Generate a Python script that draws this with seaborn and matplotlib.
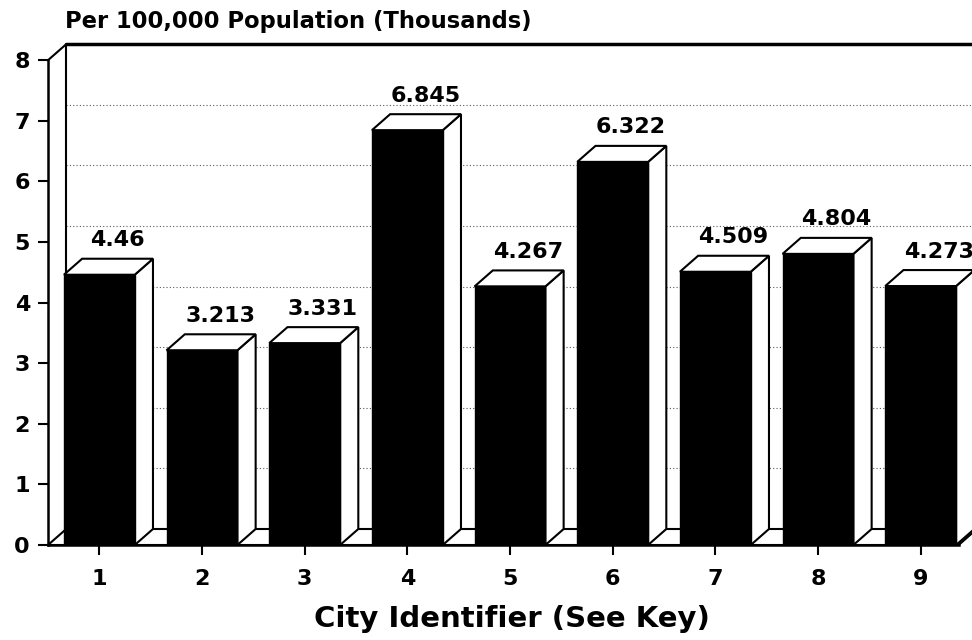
import matplotlib
matplotlib.use("Agg")
import matplotlib.pyplot as plt
from matplotlib.patches import Polygon
import seaborn as sns

# data
cities = ["1", "2", "3", "4", "5", "6", "7", "8", "9"]
rates = [4.46, 3.213, 3.331, 6.845, 4.267, 6.322, 4.509, 4.804, 4.273]
y_ticks = [0, 1, 2, 3, 4, 5, 6, 7, 8]

sns.set_style("white")
plt.rcParams["font.family"] = ["DejaVu Sans"]
plt.rcParams["text.color"] = "black"
plt.rcParams["xtick.color"] = "black"
plt.rcParams["ytick.color"] = "black"
plt.rcParams["axes.edgecolor"] = "black"

W, H = 972, 640
px_x = 101.4      # pixels per category
px_y = 60.6       # pixels per unit
depth_px = (18, 16)
ddx = depth_px[0] / px_x
ddy = depth_px[1] / px_y

fig = plt.figure(figsize=(W / 100, H / 100), dpi=100)
ax_h = (8 + ddy) * px_y
ax = fig.add_axes([48 / W, 95 / H, 924 / W, ax_h / H])
x_lo = -0.5
x_hi = x_lo + 924 / px_x
ax.set_xlim(x_lo, x_hi)
ax.set_ylim(0, 8 + ddy)

# front faces
sns.barplot(x=cities, y=rates, color="black", saturation=1, width=0.69,
            edgecolor="black", linewidth=1, ax=ax, zorder=3)

# back wall: dotted grid + frame
wall_x = x_lo + ddx
for k in y_ticks[1:-1]:
    ax.plot([wall_x, x_hi], [k + ddy, k + ddy], color="0.35", lw=0.8,
            ls=(0, (1, 2)), zorder=1, clip_on=False)
ax.plot([wall_x, wall_x], [ddy, 8 + ddy], color="black", lw=1.5, zorder=1.2)
ax.plot([wall_x, x_hi + 0.1], [8 + ddy, 8 + ddy], color="black", lw=2.5,
        zorder=1.2, clip_on=False)
ax.plot([x_lo, wall_x], [8, 8 + ddy], color="black", lw=1.5, zorder=1.2,
        clip_on=False)

# floor
floor_r = 8.37
ax.add_patch(Polygon([(x_lo, 0), (wall_x, ddy), (floor_r + ddx, ddy), (floor_r, 0)],
                     closed=True, facecolor="white", edgecolor="black",
                     lw=1.5, zorder=1.5, clip_on=False))

# tops and sides of the bars, plus value labels
for bar, v in zip(ax.patches[:len(rates)], rates):
    x0 = bar.get_x()
    x1 = x0 + bar.get_width()
    h = bar.get_height()
    side = [(x1, 0), (x1 + ddx, ddy), (x1 + ddx, h + ddy), (x1, h)]
    top = [(x0, h), (x0 + ddx, h + ddy), (x1 + ddx, h + ddy), (x1, h)]
    for pts in (side, top):
        ax.add_patch(Polygon(pts, closed=True, facecolor="white",
                             edgecolor="black", lw=1.5, zorder=2.5,
                             clip_on=False))
    ax.annotate(f"{v:g}", xy=((x0 + x1) / 2 + ddx, h + ddy), xytext=(0, 9),
                textcoords="offset points", ha="center", va="baseline",
                fontsize=16, fontweight="bold", zorder=4)

# axes lines and ticks
for s in ("top", "right"):
    ax.spines[s].set_visible(False)
ax.spines["left"].set_bounds(0, 8)
ax.spines["bottom"].set_bounds(x_lo, floor_r)
for s in ("left", "bottom"):
    ax.spines[s].set_linewidth(1.8)
    ax.spines[s].set_zorder(5)
ax.set_yticks(y_ticks)
ax.set_xticks(range(len(cities)))
ax.set_xticklabels(cities)
ax.tick_params(axis="y", left=True, direction="out", length=7, width=1.5,
               pad=6, labelsize=16)
ax.tick_params(axis="x", bottom=True, direction="out", length=7, width=1.5,
               pad=10, labelsize=16)
for lab in ax.get_xticklabels() + ax.get_yticklabels():
    lab.set_fontweight("bold")
ax.set_xlabel("")
ax.set_ylabel("")

fig.text(65 / W, 1 - 28 / H, "Per 100,000 Population (Thousands)",
         fontsize=16.3, fontweight="bold", ha="left", va="baseline")
fig.text(512 / W, 1 - 627 / H, "City Identifier (See Key)",
         fontsize=21, fontweight="bold", ha="center", va="baseline")

fig.savefig("out.png", dpi=100, facecolor="white")
